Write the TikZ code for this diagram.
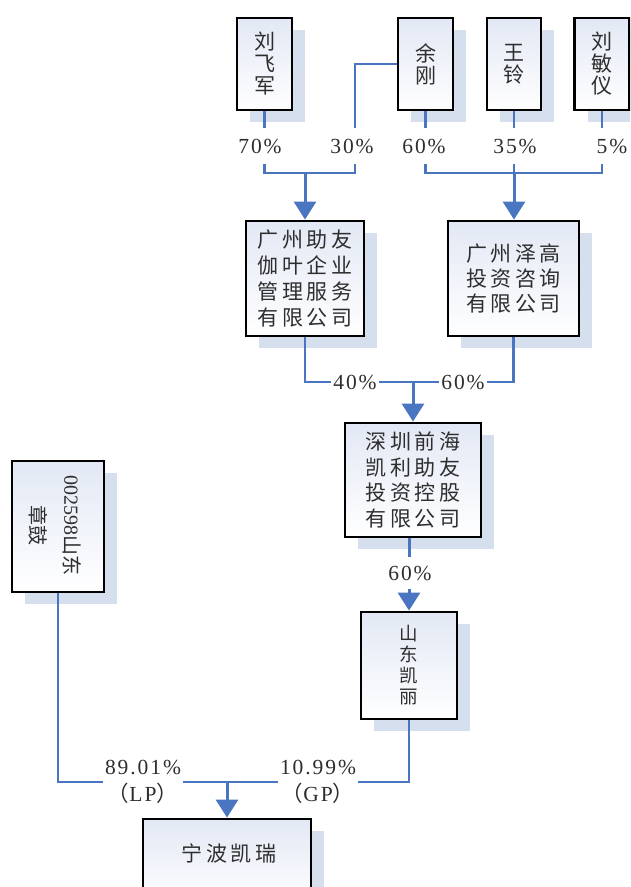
\documentclass[tikz,border=0pt]{standalone}
\usepackage{fontspec}
\setmainfont{Liberation Serif}
\newfontfamily\cjk[LetterSpace=16]{Noto Sans CJK SC}
\newfontfamily\cjkv{Noto Sans CJK SC}
\newfontfamily\pct[LetterSpace=9]{Liberation Serif}
\usetikzlibrary{arrows.meta,shadows}
\definecolor{lineblue}{HTML}{4A76C1}
\definecolor{shadowc}{HTML}{D6DFEE}
\definecolor{boxtint}{HTML}{E2E8F4}
\definecolor{txt}{HTML}{2E2E2E}
\begin{document}
\begin{tikzpicture}[x=1pt,y=-1pt,
  box/.style={draw=black, line width=2.8pt, top color=boxtint, bottom color=white,
    inner sep=0pt, text=txt, align=center,
    drop shadow={shadow xshift=13pt, shadow yshift=-12pt, fill=shadowc, opacity=1}},
  wide/.style={font=\cjk\fontsize{21}{26}\selectfont},
  tall/.style={font=\cjkv\fontsize{21}{22}\selectfont},
  conn/.style={draw=lineblue, line width=2.4pt},
  arr/.style={draw=lineblue, line width=3pt, -{Triangle[length=18pt,width=22pt]}},
  pctlab/.style={fill=white, text=txt, font=\pct\fontsize{21.5}{27}\selectfont,
    inner xsep=2pt, inner ysep=3pt, align=center},
]
\fill[white] (0,0) rectangle (630,887);
\useasboundingbox (0,0) rectangle (630,887);
\clip (0,0) rectangle (630,887);

% top row
\node[box, tall, minimum width=55pt, minimum height=92pt] (lfj) at (264.5,64) {刘\\飞\\军};
\node[box, tall, minimum width=55pt, minimum height=92pt] (yg) at (425.5,64) {余\\刚};
\node[box, tall, minimum width=54pt, minimum height=92pt] (wl) at (514,64) {王\\铃};
\node[box, tall, minimum width=55pt, minimum height=92pt] (lmy) at (602,64) {刘\\敏\\仪};

% second row
\node[box, wide, minimum width=118pt, minimum height=115pt] (gzzy) at (305,278.5) {广州助友\\伽叶企业\\管理服务\\有限公司};
\node[box, wide, minimum width=131pt, minimum height=115pt, font=\cjk\fontsize{21}{25}\selectfont] (gzzg) at (513.5,278.5) {广州泽高\\投资咨询\\有限公司};

% third
\node[box, wide, minimum width=136pt, minimum height=114pt, font=\cjk\fontsize{21}{25.5}\selectfont] (sz) at (413,480) {深圳前海\\凯利助友\\投资控股\\有限公司};

% fourth
\node[box, minimum width=96pt, minimum height=107pt, font=\cjkv\fontsize{18.5}{21}\selectfont] (sdkl) at (409,665.5) {山\\东\\凯\\丽};
\node[box, minimum width=92pt, minimum height=131pt] (zg) at (58,526.5) {};
\node[rotate=-90, text=txt, align=center, font=\fontsize{20}{34}\selectfont] (zgt) at (55,525) {002598{\cjkv 山东}\\{\cjkv 章鼓}};

% bottom
\node[box, minimum width=168pt, minimum height=86pt] (nbkr) at (227,862) {};
\node[text=txt, font=\cjk\fontsize{21}{26}\selectfont] (nbkrt) at (229,853) {宁波凯瑞};

% connectors
\coordinate (h1) at (0,173);
\coordinate (h3) at (0,382);
\coordinate (h4) at (0,782);
\draw[conn] (lfj.south) |- (355,173) |- (yg.west);
\draw[arr] (h1 -| gzzy.north) -- (gzzy.north);
\draw[conn] (yg.south) |- (h1 -| lmy.south) -- (lmy.south);
\draw[conn] (wl.south) -- (h1 -| wl.south);
\draw[arr] (h1 -| wl.south) -- (wl.south |- gzzg.north);
\draw[conn] (gzzy.south) |- (h3 -| gzzg.south) -- (gzzg.south);
\draw[arr] (h3 -| sz.north) -- (sz.north);
\draw[arr] (sdkl.north |- sz.south) -- (sdkl.north);
\draw[conn] (zg.south) |- (h4 -| sdkl.south) -- (sdkl.south);
\draw[arr] (h4 -| nbkr.north) -- (nbkr.north);

% labels
\node[pctlab, inner ysep=11pt] (p70) at (260,146) {70\%};
\node[pctlab, inner ysep=11pt] (p30) at (352,146) {30\%};
\node[pctlab, inner ysep=11pt] (p60a) at (424,146) {60\%};
\node[pctlab, inner ysep=11pt] (p35) at (515,146) {35\%};
\node[pctlab, inner ysep=11pt] (p5) at (612,146) {5\%};
\node[pctlab] (p40) at (355,382) {40\%};
\node[pctlab] (p60b) at (463,382) {60\%};
\node[pctlab, inner ysep=9pt] (p60c) at (410,573) {60\%};
\node[pctlab] (p89) at (143,782) {89.01\%\\{\cjkv （}LP{\cjkv ）}};
\node[pctlab] (p10) at (318,782) {10.99\%\\{\cjkv （}GP{\cjkv ）}};
\end{tikzpicture}
\end{document}
